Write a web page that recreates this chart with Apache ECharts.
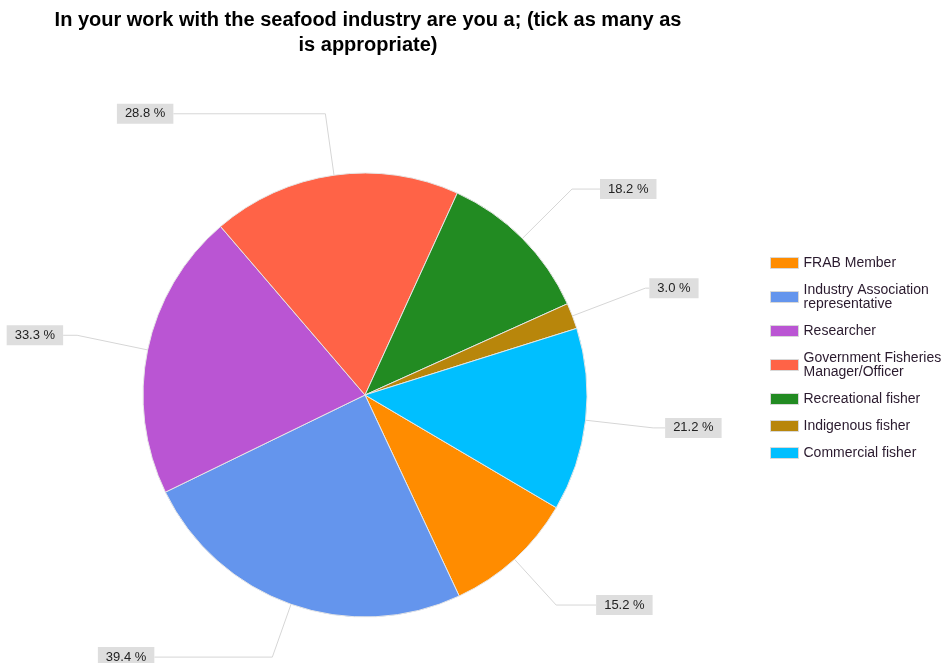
<!DOCTYPE html>
<html><head><meta charset="utf-8">
<script src="https://cdn.jsdelivr.net/npm/echarts@6/dist/echarts.min.js"></script>
<style>html,body{margin:0;padding:0;background:#fff}#c{width:944px;height:663px}</style>
</head><body><div id="c"></div>
<script>
const categories = ['FRAB Member','Industry Association\nrepresentative','Researcher','Government Fisheries\nManager/Officer','Recreational fisher','Indigenous fisher','Commercial fisher'];
const percentValues = [15.2, 39.4, 33.3, 28.8, 18.2, 3.0, 21.2];
const sliceColors = ['#FF8C00','#6495ED','#BA55D3','#FF6347','#228B22','#B8860B','#00BFFF'];
const titleText = 'In your work with the seafood industry are you a; (tick as many as\nis appropriate)';
// leader-line lengths per slice [length, length2]
const leaderLengths = [[62,40],[56,118],[72,14],[62,152],[70,28],[78,4],[68,12]];

const chart = echarts.init(document.getElementById('c'), null, {renderer:'canvas'});
const seriesData = categories.map((name,i)=>({
  name, value: percentValues[i],
  itemStyle:{color: sliceColors[i]},
  labelLine:{length: leaderLengths[i][0], length2: leaderLengths[i][1]}
}));
chart.setOption({
  animation:false,
  title:{text:titleText,left:363,top:3,textAlign:'center',
    textStyle:{fontFamily:'Liberation Sans',fontWeight:'bold',fontSize:20,lineHeight:25,color:'#000'}},
  legend:{orient:'vertical',left:765,top:251,itemWidth:28,itemHeight:11,itemGap:13,
    icon:'rect',
    itemStyle:{borderColor:'#d8d8d8',borderWidth:1},
    textStyle:{fontFamily:'Liberation Sans',fontSize:14,lineHeight:14,color:'#2a1a2e'},
    data:categories},
  series:[{
    type:'pie',center:[365,395],radius:222,startAngle:-30.5,clockwise:true,
    avoidLabelOverlap:false,
    itemStyle:{borderColor:'#e6e6e6',borderWidth:1},
    label:{show:true,position:'outside',formatter:p=>p.value.toFixed(1)+' %',
      fontFamily:'Liberation Sans',fontSize:13,color:'#222',
      backgroundColor:'#dedede',padding:[4,8,3,8],distanceToLabelLine:0},
    labelLine:{show:true,smooth:false,lineStyle:{color:'#d6d6d6',width:1}},
    emphasis:{disabled:true},
    data:seriesData
  }]
});
</script></body></html>
